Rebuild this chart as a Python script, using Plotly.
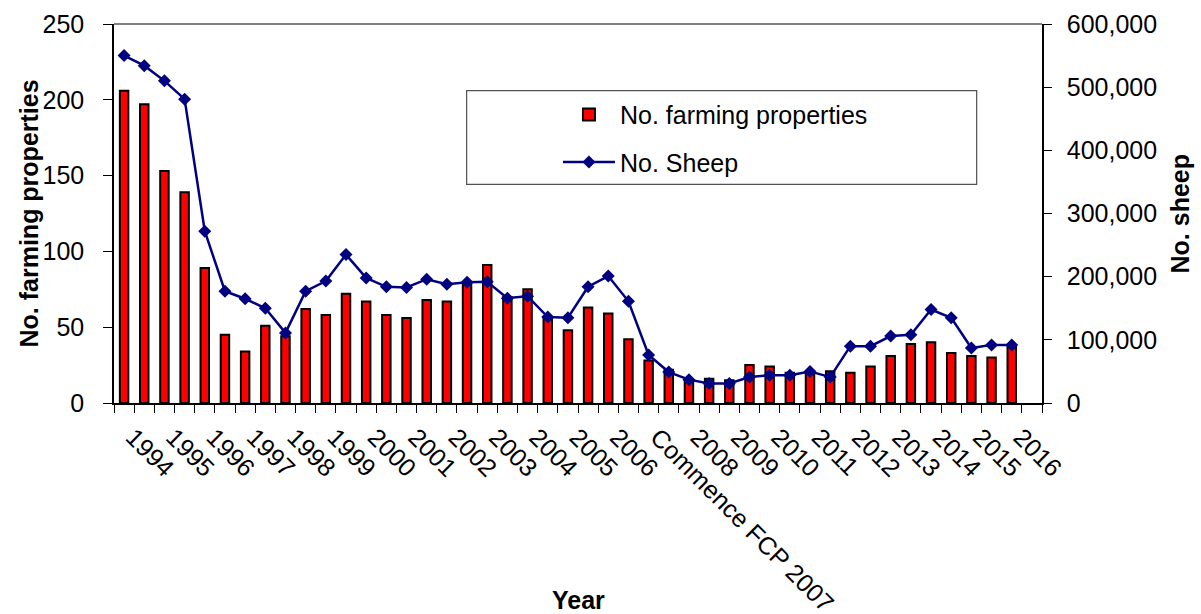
import plotly.graph_objects as go

# ---- data -------------------------------------------------------------
n_slots = 46  # half-year category slots on the x axis
year_labels = ["1994", "1995", "1996", "1997", "1998", "1999", "2000", "2001",
               "2002", "2003", "2004", "2005", "2006", "Commence FCP 2007",
               "2008", "2009", "2010", "2011", "2012", "2013", "2014", "2015",
               "2016"]
farming_properties = [206, 197, 153, 139, 89, 45, 34, 51, 44, 62,
                      58, 72, 67, 58, 56, 68, 67, 79, 91, 70,
                      75, 56, 48, 63, 59, 42, 28, 22, 15, 16,
                      15, 25, 24, 20, 20, 21, 20, 24, 31, 39,
                      40, 33, 31, 30, 37]
sheep = [550000, 534000, 510000, 481000, 272000, 177000, 165000, 150000, 111000, 177000,
         193000, 235000, 198000, 184000, 183000, 196000, 188000, 191000, 192000, 166000,
         169000, 136000, 135000, 184000, 201000, 161000, 76000, 49000, 37000, 31000,
         31000, 41000, 44000, 44000, 50000, 41000, 90000, 90000, 106000, 108000,
         148000, 135000, 87000, 92000, 92000]

x_idx = list(range(len(farming_properties)))
label_pos = [2 * i for i in range(len(year_labels))]
boundaries = [i - 0.5 for i in range(n_slots + 1)]

FONT = "Liberation Sans, Arial, sans-serif"
FS = 25

fig = go.Figure()
fig.add_trace(go.Bar(
    x=x_idx, y=farming_properties, name="No. farming properties",
    marker=dict(color="#FF0000", line=dict(color="black", width=2)),
    width=0.42, legendgroup="a", yaxis="y"))
fig.add_trace(go.Scatter(
    x=x_idx, y=sheep, name="No. Sheep", mode="lines+markers",
    line=dict(color="#000080", width=2.5),
    marker=dict(symbol="diamond", size=10, color="#000080"),
    legendgroup="b", yaxis="y2"))

fig.update_layout(
    width=1201, height=614,
    margin=dict(l=114, r=159, t=24, b=211, autoexpand=False),
    paper_bgcolor="white", plot_bgcolor="white",
    font=dict(family=FONT, size=FS, color="black"),
    showlegend=True,
    legend=dict(x=0.4784, y=0.821, xanchor="left", yanchor="top",
                bgcolor="rgba(0,0,0,0)", borderwidth=0,
                itemwidth=52, traceorder="grouped", tracegroupgap=12,
                font=dict(family=FONT, size=FS, color="black")),
    xaxis=dict(range=[-0.5, n_slots - 0.5], tickmode="array",
               tickvals=label_pos, ticktext=year_labels, tickangle=45,
               ticks="outside", ticklen=8, tickcolor="rgba(0,0,0,0)",
               ticklabelshift=9,
               minor=dict(ticks="outside", tickmode="array", tickvals=boundaries,
                          ticklen=8, tickcolor="black", tickwidth=1),
               showline=True, linecolor="black", linewidth=1.5,
               showgrid=False, zeroline=False, automargin=False,
               tickfont=dict(family=FONT, size=FS, color="black")),
    yaxis=dict(range=[0, 250], dtick=50, ticks="outside", ticklen=9,
               tickcolor="black", showline=True, linecolor="black", linewidth=1.5,
               showgrid=False, zeroline=False, automargin=False,
               ticklabelstandoff=14,
               tickfont=dict(family=FONT, size=FS, color="black")),
    yaxis2=dict(range=[0, 600000], dtick=100000, tickformat=",", overlaying="y",
                side="right", ticks="outside", ticklen=8, tickcolor="black",
                showline=True, linecolor="black", linewidth=1.5,
                showgrid=False, zeroline=False, automargin=False,
                ticklabelstandoff=10,
                tickfont=dict(family=FONT, size=FS, color="black")),
)

# plot-area top border and legend frame
fig.add_shape(type="line", xref="paper", yref="paper", x0=0, x1=1, y0=1, y1=1,
              line=dict(color="#808080", width=2))
fig.add_shape(type="rect", xref="paper", yref="paper",
              x0=0.380, x1=0.9296, y0=0.577, y1=0.824,
              line=dict(color="#505050", width=1.2), fillcolor="rgba(0,0,0,0)")

# axis titles
fig.add_annotation(text="<b>No. farming properties</b>", xref="paper", yref="paper",
                   x=-0.0916, y=0.5, textangle=-90, showarrow=False,
                   xanchor="center", yanchor="middle", font=dict(family=FONT, size=FS))
fig.add_annotation(text="<b>No. sheep</b>", xref="paper", yref="paper",
                   x=1.1487, y=0.5, textangle=-90, showarrow=False,
                   xanchor="center", yanchor="middle", font=dict(family=FONT, size=FS))
fig.add_annotation(text="<b>Year</b>", xref="paper", yref="paper",
                   x=0.5, y=-0.5198, showarrow=False,
                   xanchor="center", yanchor="middle", font=dict(family=FONT, size=FS))

fig.write_html("out.html")
